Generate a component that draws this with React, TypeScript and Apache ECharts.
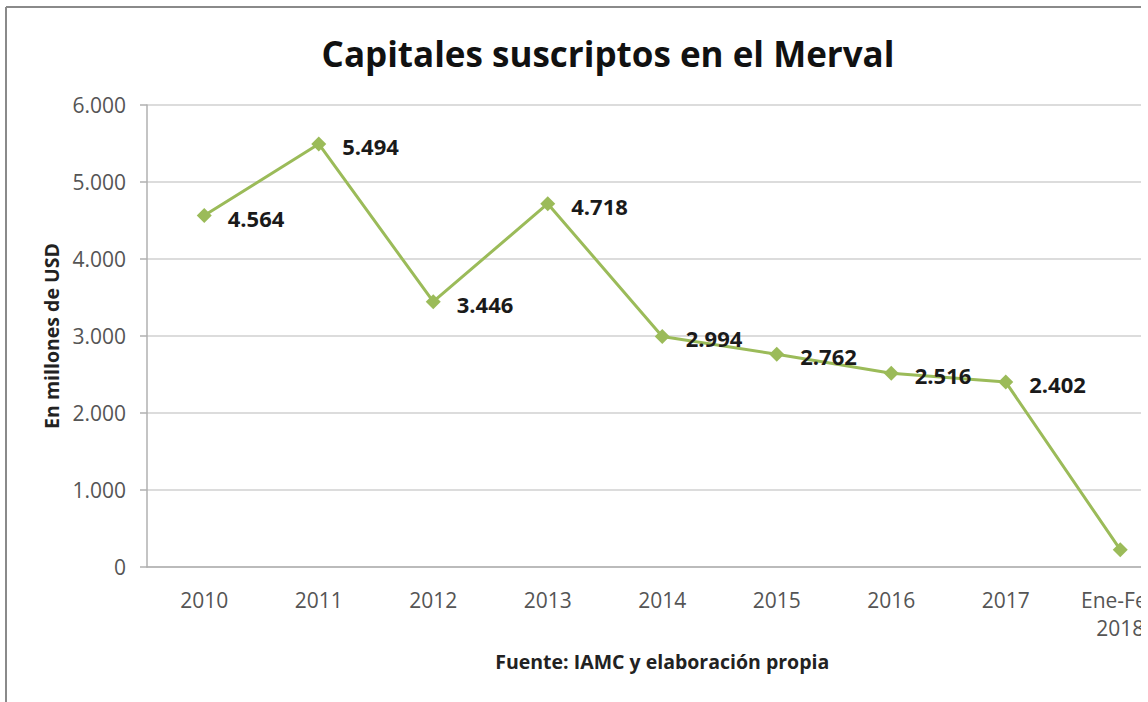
import React, { useEffect, useRef } from "react";
import * as echarts from "echarts";

const categories = ["2010", "2011", "2012", "2013", "2014", "2015", "2016", "2017", "Ene-Feb\n2018"];
const values = [4564, 5494, 3446, 4718, 2994, 2762, 2516, 2402, 225];
const yTicks = { min: 0, max: 6000, interval: 1000 };
const titleText = "Capitales suscriptos en el Merval";
const yAxisName = "En millones de USD";
const xAxisName = "Fuente: IAMC y elaboración propia";

const fmt = (v: number) => String(Math.round(v)).replace(/\B(?=(\d{3})+(?!\d))/g, ".");

export default function App() {
  const ref = useRef<HTMLDivElement>(null);
  useEffect(() => {
    if (!ref.current) return;
    const chart = echarts.init(ref.current, null, { renderer: "svg" });
    const font = "'Open Sans', sans-serif";
    chart.setOption({
      animation: false,
      backgroundColor: "#ffffff",
      textStyle: { fontFamily: font },
      title: {
        text: titleText,
        left: 603,
        textAlign: "center",
        top: 31,
        textStyle: { fontSize: 35, fontWeight: "bold", color: "#111", fontFamily: font },
      },
      graphic: [
        { type: "line", shape: { x1: 6, y1: 7, x2: 1200, y2: 7 }, style: { stroke: "#8a8a8a", lineWidth: 2 } },
        { type: "line", shape: { x1: 6, y1: 7, x2: 6, y2: 702 }, style: { stroke: "#8a8a8a", lineWidth: 2 } },
      ],
      grid: { left: 147, right: 22.5, top: 105, bottom: 135 },
      xAxis: {
        type: "category",
        data: categories,
        boundaryGap: true,
        name: xAxisName,
        nameLocation: "middle",
        nameGap: 84,
        nameTextStyle: { fontSize: 19.5, fontWeight: "bold", color: "#222", fontFamily: font },
        axisLine: { show: true, lineStyle: { color: "#b0b0b0", width: 1.5 } },
        axisTick: { show: false },
        axisLabel: { color: "#555", fontSize: 21, margin: 19, lineHeight: 28, fontFamily: font },
      },
      yAxis: {
        type: "value",
        min: yTicks.min,
        max: yTicks.max,
        interval: yTicks.interval,
        name: yAxisName,
        nameLocation: "middle",
        nameGap: 84,
        nameRotate: 90,
        nameTextStyle: { fontSize: 19.5, fontWeight: "bold", color: "#222", fontFamily: font },
        axisLine: { show: true, lineStyle: { color: "#b0b0b0", width: 1.5 } },
        axisTick: { show: true, length: 7, lineStyle: { color: "#b0b0b0", width: 1.5 } },
        splitLine: { show: true, lineStyle: { color: "#d0d0d0", width: 1.5 } },
        axisLabel: { color: "#555", fontSize: 21, margin: 21, formatter: (v: number) => fmt(v), fontFamily: font },
      },
      series: [
        {
          type: "line",
          data: values,
          symbol: "diamond",
          symbolSize: 15,
          itemStyle: { color: "#9BBB59" },
          lineStyle: { color: "#9BBB59", width: 3 },
          label: {
            show: true,
            position: "right",
            distance: 16,
            offset: [0, 2],
            fontSize: 22,
            fontWeight: "bold",
            color: "#1a1a1a",
            fontFamily: font,
            formatter: (p: any) => fmt(p.value),
          },
        },
      ],
    });
    return () => chart.dispose();
  }, []);
  return (
    <div style={{ position: "absolute", left: 0, top: 0, width: 1141, height: 702, overflow: "hidden", background: "#fff" }}>
      <div ref={ref} style={{ width: 1200, height: 702 }} />
    </div>
  );
}
